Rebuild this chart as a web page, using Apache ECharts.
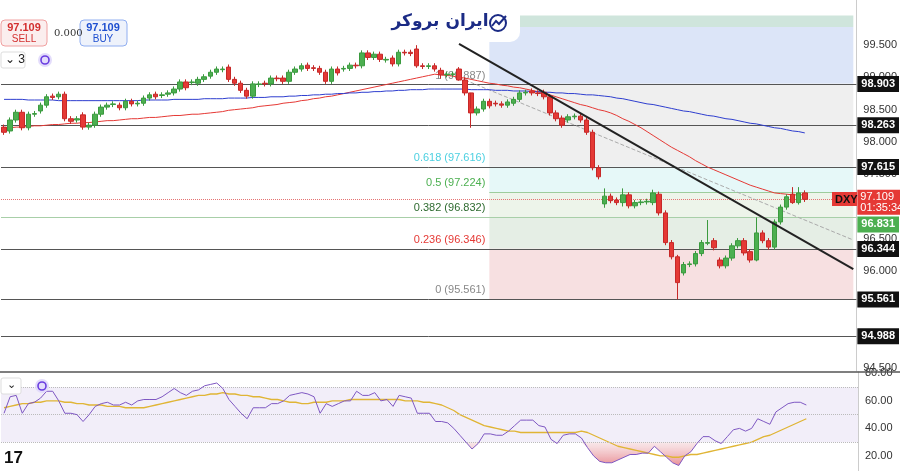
<!DOCTYPE html>
<html><head><meta charset="utf-8">
<script src="https://cdn.jsdelivr.net/npm/echarts@6/dist/echarts.min.js"></script>
<style>html,body{margin:0;padding:0;background:#fff}#c{width:900px;height:471px}</style>
</head><body><div id="c"></div>
<script>
// [open, close] per candle
const ohlcOC = [
[98.23,98.15],[98.17,98.34],[98.34,98.46],[98.46,98.22],[98.22,98.43],[98.43,98.44],[98.48,98.57],[98.57,98.70],[98.71,98.69],[98.70,98.74],
[98.74,98.36],[98.36,98.32],[98.34,98.36],[98.42,98.23],[98.23,98.26],[98.26,98.43],[98.43,98.54],[98.54,98.57],[98.58,98.59],[98.57,98.53],
[98.53,98.63],[98.63,98.59],[98.59,98.60],[98.60,98.68],[98.68,98.73],[98.74,98.70],[98.72,98.73],[98.74,98.76],[98.76,98.82],[98.82,98.93],
[98.93,98.84],[98.92,98.93],[98.91,98.97],[98.97,99.01],[99.02,99.08],[99.08,99.13],[99.12,99.13],[99.16,98.97],[98.97,98.91],[98.91,98.80],
[98.80,98.71],[98.71,98.90],[98.89,98.90],[98.91,98.90],[98.90,98.99],[98.99,98.98],[98.99,98.94],[98.94,99.08],[99.08,99.13],[99.13,99.18],
[99.19,99.14],[99.15,99.14],[99.14,99.08],[99.08,98.94],[98.94,99.13],[99.13,99.07],[99.13,99.14],[99.14,99.19],[99.19,99.18],[99.18,99.38],
[99.38,99.31],[99.31,99.36],[99.36,99.28],[99.27,99.28],[99.30,99.21],[99.21,99.39],[99.39,99.38],[99.39,99.37],[99.44,99.18],[99.18,99.17],
[99.17,99.18],[99.18,99.13],[99.11,99.04],[99.04,99.05],[99.05,99.05],[99.13,98.96],[98.96,98.76],[98.76,98.45],[98.45,98.51],[98.51,98.63],
[98.63,98.56],[98.60,98.59],[98.59,98.57],[98.57,98.62],[98.60,98.66],[98.66,98.76],[98.76,98.77],[98.79,98.76],[98.76,98.75],[98.77,98.70],
[98.70,98.45],[98.45,98.36],[98.37,98.26],[98.34,98.39],[98.39,98.40],[98.40,98.34],[98.34,98.15],[98.15,97.60],[97.60,97.46],[97.04,97.16],
[97.16,97.09],[97.10,97.06],[97.06,97.18],[97.18,97.01],[97.01,97.06],[97.06,97.07],[97.07,97.08],[97.06,97.21],[97.19,96.90],[96.90,96.44],
[96.44,96.22],[96.22,95.82],[95.97,96.10],[96.10,96.11],[96.11,96.27],[96.27,96.44],[96.43,96.44],[96.47,96.36],[96.17,96.08],[96.08,96.20],
[96.20,96.39],[96.39,96.47],[96.47,96.28],[96.30,96.17],[96.17,96.59],[96.59,96.47],[96.47,96.37],[96.37,96.76],[96.76,96.99],[96.99,97.15],
[97.19,97.06],[97.06,97.21],[97.21,97.11]
];
// long wick extremes: index -> [low, high]
const wickExtremes = {68:[99.15,99.50],111:[95.56,96.25],107:[97.02,97.26],116:[96.40,96.79],99:[96.98,97.28],102:[97.00,97.28],124:[96.15,96.83],130:[97.04,97.30],131:[97.03,97.30],72:[98.98,99.15],75:[98.95,99.16],77:[98.22,98.52]};
const maRed = [98.22,98.22,98.23,98.23,98.24,98.25,98.25,98.26,98.27,98.27,98.28,
98.29,98.29,98.30,98.30,98.31,98.32,98.33,98.33,98.34,98.35,
98.36,98.36,98.37,98.38,98.38,98.39,98.40,98.41,98.41,98.42,98.43,98.43,98.44,
98.45,98.46,98.47,98.49,98.50,98.51,98.52,98.53,98.55,98.56,98.57,98.58,98.60,98.61,98.62,98.64,98.65,98.67,98.68,98.70,98.71,98.73,
98.75,98.77,98.79,98.81,98.83,98.85,98.87,98.89,98.91,98.93,98.95,98.97,98.99,99.01,99.03,99.05,
99.04,99.03,99.02,99.00,98.99,98.97,98.95,98.93,98.91,
98.90,98.88,98.87,98.85,98.84,98.82,98.80,98.78,98.76,98.73,
98.70,98.67,98.64,98.61,98.58,98.56,98.53,98.50,98.48,98.45,
98.41,98.36,98.32,98.27,98.22,
98.16,98.10,98.04,97.98,97.92,
97.87,97.82,97.77,97.71,97.66,97.61,
97.57,97.53,97.49,97.45,97.41,
97.37,97.33,97.30,97.27,97.24,97.21,
97.20,97.19,97.18,97.18,97.18];
const maBlue = [98.66,98.66,98.66,98.66,98.65,98.65,98.65,98.65,98.65,98.64,98.64,98.64,98.64,98.64,98.64,98.64,98.64,98.64,98.64,98.64,98.64,
98.64,98.64,98.65,98.65,98.65,98.65,98.65,98.66,98.66,98.66,98.66,98.66,98.67,98.67,98.67,98.67,98.68,98.68,98.68,98.68,
98.69,98.69,98.69,98.70,98.70,98.70,98.71,98.71,98.72,98.72,98.73,98.73,98.74,98.74,98.75,98.75,98.76,98.76,98.77,98.77,98.78,98.78,98.79,98.79,98.80,98.80,98.81,98.81,98.81,98.82,
98.82,98.82,98.82,98.82,98.82,98.82,98.81,98.81,98.81,98.81,98.80,98.80,98.80,98.79,98.79,98.79,98.78,98.78,98.77,98.77,
98.76,98.76,98.75,98.75,98.74,98.73,98.73,98.72,98.71,98.70,
98.68,98.67,98.65,98.63,98.61,98.59,98.58,98.56,98.54,98.52,
98.50,98.48,98.47,98.45,98.43,98.41,98.40,98.38,98.36,98.35,
98.33,98.31,98.29,98.28,98.26,98.24,98.22,98.21,98.19,98.17,98.16,98.14];
const rsi = [51,63,64,51,58,59,62,67,67,60,51,51,50,45,50,56,58,59,57,57,59,57,60,61,61,61,63,66,69,66,64,67,68,71,72,73,69,61,56,51,47,55,55,55,58,58,60,64,65,66,65,63,51,58,56,58,60,60,67,64,64,66,60,61,56,64,63,62,51,51,51,45,45,44,40,35,30,25,29,36,36,35,35,38,42,46,46,46,42,41,32,29,35,36,36,33,26,20,16,15,15,17,19,21,21,22,22,27,23,19,15,13,20,23,29,34,34,31,29,34,39,40,38,40,47,45,43,52,55,58,59,59,57];
const rsiMA = [55,56,57,58,58,59,59,60,60,60,59,59,58,58,57,57,57,56,56,56,55,55,55,55,56,57,58,59,60,61,62,63,64,64,65,65,66,65,65,64,64,63,63,62,61,61,60,59,59,58,58,59,59,59,60,60,60,61,61,61,61,61,61,61,61,61,60,60,60,59,59,58,57,55,53,50,48,46,44,42,41,40,39,38,38,37,37,37,37,37,37,37,37,37,37,38,37,35,33,31,29,27,26,25,24,23,22,21,20,20,19,19,20,21,21,22,23,24,25,26,27,28,29,30,32,34,35,37,39,41,43,45,47];
const priceTicks = [94.5,95.0,95.5,96.0,96.5,97.0,97.5,98.0,98.5,99.0,99.5];
const rsiTicks = [20,40,60,80];
const levels = [98.903,98.263,97.615,96.344,95.561,94.988];
const fibLevels = [98.887,97.616,97.224,96.832,96.346,95.561];
const fibRatios = ['1','0.618','0.5','0.382','0.236','0'];
const fibColors = ['#888','#4dd0e1','#4caf50','#2e6b30','#e53935','#888'];
const lastPrice = 97.109, greenLevel = 96.831;
const TOTAL = 141, FIB_START = 80;
const trend = [[75,99.52],[140,96.03]];
const dashTrend = [[76,98.96],[140,96.48]];

const cats = Array.from({length:TOTAL},(_,i)=>String(i));
const candles = ohlcOC.map((oc,i)=>{
  const w = wickExtremes[i];
  const lo = w?w[0]:Math.min(oc[0],oc[1])-0.04, hi = w?w[1]:Math.max(oc[0],oc[1])+0.04;
  return [oc[0],oc[1],lo,hi];
});
const rsiLow = rsi.map(v=>Math.min(v,30));
const rsiFill = rsi.map(v=>30-Math.min(v,30));
const F = 'Liberation Sans, Arial, sans-serif';
const boxLabel = (bg,txt)=>({show:true,position:'end',distance:1,formatter:txt,backgroundColor:bg,color:'#fff',padding:[3,4,2,4],fontSize:11,fontFamily:F,fontWeight:'bold'});

const fibBands = [[99.78,98.903,'#dce5f8'],[98.903,97.616,'#efefef'],[97.616,97.224,'#e6f8f8'],[97.224,96.832,'#edf4ea'],[96.832,96.346,'#e5eee5'],[96.346,95.561,'#f7e0e1'],[99.96,99.78,'#cfe5dc']];

const chart = echarts.init(document.getElementById('c'));
chart.setOption({
  animation:false,
  grid:[{left:1,right:42,top:0,height:371},{left:1,right:42,top:372,height:99}],
  xAxis:[{type:'category',data:cats,gridIndex:0,show:false,boundaryGap:true},
         {type:'category',data:cats,gridIndex:1,show:false,boundaryGap:true}],
  yAxis:[{type:'value',gridIndex:0,position:'right',min:94.45,max:100.2,splitLine:{show:false},
          axisLine:{show:true,lineStyle:{color:'#ccc'}},axisTick:{show:false},
          axisLabel:{customValues:priceTicks,formatter:v=>v.toFixed(3),color:'#333',fontSize:11,fontFamily:F,margin:7}},
         {type:'value',gridIndex:1,position:'right',min:9,max:81,splitLine:{show:false},
          axisLine:{show:true,lineStyle:{color:'#ccc'}},axisTick:{show:false},
          axisLabel:{customValues:rsiTicks,formatter:v=>v.toFixed(2),color:'#333',fontSize:11,fontFamily:F,margin:7}}],
  series:[
    {type:'candlestick',data:candles,barWidth:5,z:5,
     itemStyle:{color:'#4caf50',color0:'#e53935',borderColor:'#3a9a3e',borderColor0:'#c62828',borderWidth:1},
     markArea:{silent:true,z:1,data:fibBands.map(b=>[{xAxis:FIB_START,yAxis:b[0],itemStyle:{color:b[2]}},{xAxis:TOTAL-1,yAxis:b[1]}])},
     markLine:{silent:true,symbol:'none',z:2,data:[
       ...levels.map(v=>({yAxis:v,lineStyle:{color:'#555',width:1,type:'solid'},label:boxLabel('#111',v.toFixed(3))})),
       {yAxis:greenLevel,lineStyle:{color:'#a8cfa8',width:1,type:'solid'},label:Object.assign(boxLabel('#4caf50',greenLevel.toFixed(3)),{offset:[0,7]})},
       {yAxis:lastPrice,lineStyle:{color:'#e57373',width:1,type:'dotted'},label:Object.assign(boxLabel('#e53935',lastPrice.toFixed(3)+'\n01:35:34'),{lineHeight:11,padding:[2,3,1,3],fontWeight:'normal',offset:[0,3],fontSize:11})},
       ...fibLevels.map((v,i)=>[{coord:[FIB_START,v],lineStyle:{color:i==2?'#9ccc9c':'#999',width:i==2?1:0,type:'solid'},
          label:{show:true,position:'start',distance:4,offset:[0,-9],formatter:fibRatios[i]+' ('+v.toFixed(3)+')',color:fibColors[i],fontSize:11,fontFamily:F}},{coord:[TOTAL-1,v]}])
     ]}},
    {type:'line',data:maRed,showSymbol:false,lineStyle:{color:'#e53935',width:1},z:4},
    {type:'line',data:maBlue,showSymbol:false,lineStyle:{color:'#2e3ecf',width:1},z:4},
    {type:'line',data:trend,showSymbol:false,lineStyle:{color:'#222',width:2},z:6},
    {type:'line',data:dashTrend,showSymbol:false,lineStyle:{color:'#aaa',width:1,type:'dashed'},z:3},
    {type:'line',xAxisIndex:1,yAxisIndex:1,data:rsiLow,stack:'o',showSymbol:false,lineStyle:{width:0},z:2},
    {type:'line',xAxisIndex:1,yAxisIndex:1,data:rsiFill,stack:'o',showSymbol:false,lineStyle:{width:0},z:2,
     areaStyle:{color:new echarts.graphic.LinearGradient(0,0,0,1,[{offset:0,color:'rgba(240,200,205,0.6)'},{offset:1,color:'rgba(220,80,90,0.9)'}]),origin:'start'}},
    {type:'line',xAxisIndex:1,yAxisIndex:1,data:rsiMA,showSymbol:false,lineStyle:{color:'#e0b535',width:1.3},z:4},
    {type:'line',xAxisIndex:1,yAxisIndex:1,data:rsi,showSymbol:false,lineStyle:{color:'#7e57c2',width:1},z:5,
     markArea:{silent:true,data:[[{yAxis:70,itemStyle:{color:'rgba(126,87,194,0.1)'}},{yAxis:30}]]},
     markLine:{silent:true,symbol:'none',label:{show:false},lineStyle:{color:'#bbb',type:'dotted',width:1},data:[{yAxis:70},{yAxis:50},{yAxis:30}]}}
  ],
  graphic:[
    {type:'line',shape:{x1:0,y1:372,x2:900,y2:372},style:{stroke:'#555',lineWidth:1.5},z:20},
    {type:'rect',shape:{x:1,y:20,width:46,height:26,r:4},style:{fill:'#fbeeee',stroke:'#f0a0a0'},z:20},
    {type:'text',x:24,y:22,style:{text:'97.109',fill:'#d32f2f',font:'bold 11px '+F,align:'center'},z:21},
    {type:'text',x:24,y:34,style:{text:'SELL',fill:'#d32f2f',font:'10px '+F,align:'center'},z:21},
    {type:'text',x:54,y:28,style:{text:'0.000',fill:'#333',font:'10px DejaVu Serif'},z:21},
    {type:'rect',shape:{x:80,y:20,width:47,height:26,r:4},style:{fill:'#eef2fb',stroke:'#90aef0'},z:20},
    {type:'text',x:103,y:22,style:{text:'97.109',fill:'#1e4fd0',font:'bold 11px '+F,align:'center'},z:21},
    {type:'text',x:103,y:34,style:{text:'BUY',fill:'#1e4fd0',font:'10px '+F,align:'center'},z:21},
    {type:'rect',shape:{x:1,y:52,width:24,height:16,r:2},style:{fill:'#fff',stroke:'#ddd'},z:20},
    {type:'text',x:5,y:54,style:{text:'⌄ 3',fill:'#222',font:'12px '+F},z:21},
    {type:'circle',shape:{cx:45,cy:60,r:7},style:{fill:'#e3dcfb'},z:20},
    {type:'circle',shape:{cx:45,cy:60,r:4},style:{fill:'none',stroke:'#6a3de0',lineWidth:1.6},z:21},
    {type:'rect',shape:{x:1,y:378,width:20,height:16,r:2},style:{fill:'#fff',stroke:'#ddd'},z:20},
    {type:'text',x:7,y:379,style:{text:'⌄',fill:'#222',font:'11px '+F},z:21},
    {type:'circle',shape:{cx:42,cy:386,r:7},style:{fill:'#e3dcfb'},z:20},
    {type:'circle',shape:{cx:42,cy:386,r:4},style:{fill:'none',stroke:'#6a3de0',lineWidth:1.6},z:21},
    {type:'rect',shape:{x:382,y:-10,width:138,height:52,r:10},style:{fill:'#fff'},z:20},
    {type:'text',x:440,y:13,style:{text:'ایران بروکر',fill:'#1b2b85',font:'bold 17px "DejaVu Sans"',align:'center'},z:21},
    {type:'circle',shape:{cx:498,cy:23,r:8},style:{fill:'none',stroke:'#1b2b85',lineWidth:2},z:21},
    {type:'polyline',shape:{points:[[492,26],[496,21],[499,24],[506,16]]},style:{stroke:'#1b2b85',lineWidth:2,fill:'none'},z:22},
    {type:'rect',shape:{x:832,y:192,width:25,height:14},style:{fill:'#e53935'},z:20},
    {type:'text',x:835,y:194,style:{text:'DXY',fill:'#111',font:'bold 11px '+F},z:21},
    {type:'text',x:4,y:450,style:{text:'17',fill:'#111',font:'bold 17px '+F},z:21}
  ]
});
</script></body></html>
